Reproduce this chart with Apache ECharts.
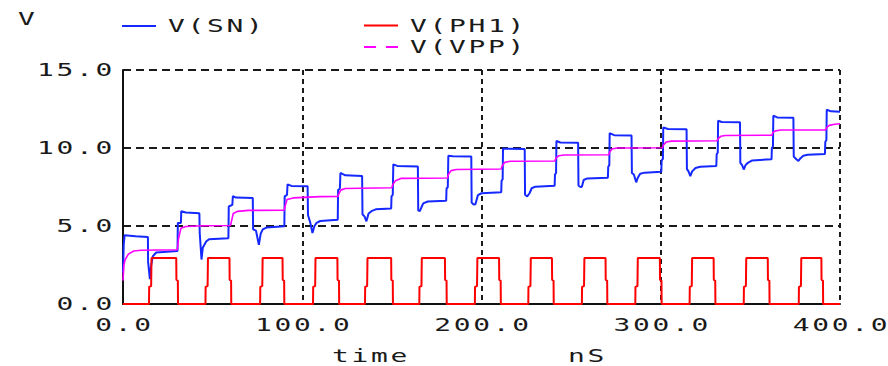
<!DOCTYPE html>
<html><head><meta charset="utf-8">
<script src="https://cdn.jsdelivr.net/npm/echarts@6/dist/echarts.min.js"></script>
<style>
html,body{margin:0;padding:0;background:#fff}
#chart{width:888px;height:366px}
#chart text{letter-spacing:1.75px}
</style></head><body><div id="chart"></div>
<script>
// ---- data (time in nS, voltage in V) ----
const seriesNames = ['V(SN)', 'V(PH1)', 'V(VPP)'];
const xRange = [0, 400];
const yRange = [0, 15];

const snPoints = [
[0,2.0],[0.4,3.8],[0.9,4.4],[7,4.35],[13.9,4.3],
[14.0,2.7],[15.0,1.6],[15.6,2.4],[16.6,3.05],[18.5,3.3],[30.4,3.4],
[30.6,5.2],[32.3,5.2],[32.5,5.95],[35,5.87],[42.6,5.82],
[42.8,4.55],[43.8,2.85],[44.5,3.6],[46.4,4.0],[48,4.15],[58.8,4.22],
[59.0,6.25],[61.0,6.35],[61.3,6.92],[63,6.82],[72.4,6.8],
[72.6,4.78],[74.2,4.7],[75.8,3.8],[76.8,4.5],[78,4.78],[80,4.9],[90.0,4.98],
[90.2,6.9],[91.5,7.0],[91.8,7.67],[94,7.57],[103.0,7.55],
[103.2,5.7],[104.5,5.2],[105.7,4.55],[106.8,5.0],[108,5.2],[110,5.32],[119.8,5.4],
[120.0,7.3],[121.0,7.4],[121.3,8.4],[124,8.25],[133.4,8.2],
[133.6,5.75],[134.8,5.6],[135.8,5.3],[137,5.8],[138.6,5.95],[141,6.07],[149.6,6.12],
[149.8,6.9],[150.5,7.0],[150.8,8.95],[153,8.85],[164.5,8.82],
[164.7,6.0],[165.6,5.95],[166.5,6.2],[167.5,6.45],[170,6.57],[180.3,6.62],
[180.5,7.4],[181.2,7.5],[181.5,9.5],[184,9.47],[194.3,9.45],
[194.5,6.5],[195.6,6.38],[196.6,6.4],[198,6.98],[200,7.1],[211.0,7.16],
[211.2,7.9],[211.8,8.0],[212.0,9.97],[214,9.95],[224.1,9.93],
[224.3,7.0],[225.5,6.9],[226.8,7.1],[228,7.42],[230,7.52],[240.8,7.58],
[241.0,8.3],[241.6,8.4],[241.8,10.45],[244,10.35],[253.9,10.33],
[254.1,7.6],[255.2,7.5],[256,7.52],[257,7.95],[259,8.05],[270.5,8.1],
[270.7,8.8],[271.3,8.9],[271.5,10.95],[274,10.82],[283.7,10.8],
[283.9,8.4],[285,8.3],[286.3,7.8],[287.2,8.1],[288.5,8.35],[291,8.42],[300.3,8.47],
[300.5,9.2],[301.2,9.3],[301.4,11.32],[304,11.22],[314.4,11.2],
[314.6,8.65],[315.5,8.5],[316.5,8.2],[317.5,8.5],[319.4,8.72],[322,8.8],[331.0,8.85],
[331.2,9.6],[331.8,9.7],[332.0,11.75],[334,11.67],[344.2,11.65],
[344.4,9.05],[345.4,8.9],[346.3,8.62],[347.3,8.9],[348.6,9.05],[351,9.2],[361.8,9.28],
[362.0,10.0],[362.6,10.1],[362.8,12.07],[365,11.96],[374.0,11.94],
[374.2,9.45],[375.5,9.3],[376.8,9.17],[378,9.35],[379.5,9.5],[382,9.57],[391.6,9.62],
[391.8,10.4],[392.4,10.5],[392.6,12.45],[395,12.35],[400,12.33]
];

const ph1Points = [
[0,0],
[14.5,0],[14.6,1.1],[15.7,1.15],[15.9,2.95],[29.7,2.95],[29.8,1.55],[30.6,1.5],[30.7,0],
[46.0,0],[46.1,1.1],[47.2,1.15],[47.4,2.95],[59.4,2.95],[59.5,1.55],[60.3,1.5],[60.4,0],
[76.5,0],[76.6,1.1],[77.7,1.15],[77.9,2.95],[89.0,2.95],[89.1,1.55],[89.9,1.5],[90.0,0],
[106.0,0],[106.1,1.1],[107.2,1.15],[107.4,2.95],[119.6,2.95],[119.7,1.55],[120.5,1.5],[120.6,0],
[135.0,0],[135.1,1.1],[136.2,1.15],[136.4,2.95],[149.6,2.95],[149.7,1.55],[150.5,1.5],[150.6,0],
[165.3,0],[165.4,1.1],[166.5,1.15],[166.7,2.95],[179.6,2.95],[179.7,1.55],[180.5,1.5],[180.6,0],
[196.3,0],[196.4,1.1],[197.5,1.15],[197.7,2.95],[209.8,2.95],[209.9,1.55],[210.7,1.5],[210.8,0],
[226.1,0],[226.2,1.1],[227.3,1.15],[227.5,2.95],[239.3,2.95],[239.4,1.55],[240.2,1.5],[240.3,0],
[256.0,0],[256.1,1.1],[257.2,1.15],[257.4,2.95],[269.2,2.95],[269.3,1.55],[270.1,1.5],[270.2,0],
[285.8,0],[285.9,1.1],[287.0,1.15],[287.2,2.95],[299.5,2.95],[299.6,1.55],[300.4,1.5],[300.5,0],
[316.1,0],[316.2,1.1],[317.3,1.15],[317.5,2.95],[329.5,2.95],[329.6,1.55],[330.4,1.5],[330.5,0],
[346.3,0],[346.4,1.1],[347.5,1.15],[347.7,2.95],[359.7,2.95],[359.8,1.55],[360.6,1.5],[360.7,0],
[377.0,0],[377.1,1.1],[378.2,1.15],[378.4,2.95],[389.6,2.95],[389.7,1.55],[390.5,1.5],[390.6,0],
[400,0]
];

const vppPoints = [
[0,1.5],[0.5,2.5],[1.2,2.85],[3,3.2],[6,3.4],[10,3.45],[30.3,3.48],
[31,4.2],[32.3,4.85],[35,4.97],[45,5.02],[60,5.03],
[60.5,5.3],[61.5,5.8],[64,5.94],[70,6.0],[90,6.02],
[90.5,6.3],[91.5,6.7],[95,6.8],[110,6.88],[120,6.9],
[120.5,7.1],[121.5,7.3],[124,7.4],[150,7.45],
[150.5,7.65],[152,7.9],[155,8.05],[181,8.08],
[181.5,8.3],[183,8.55],[186,8.62],[211,8.65],
[211.5,8.85],[213,9.08],[216,9.15],[241,9.17],
[241.5,9.35],[243,9.5],[246,9.55],[271,9.57],
[271.5,9.75],[273,9.95],[276,10.0],[301,10.02],
[301.5,10.2],[303,10.38],[306,10.44],[331.5,10.46],
[332,10.6],[333.5,10.75],[336,10.8],[362,10.82],
[362.5,10.98],[364,11.1],[367,11.15],[392,11.16],
[392.5,11.3],[394,11.45],[397,11.52],[400,11.55]
];

const colors = ['#1428ff', '#ff0000', '#ff00ff'];

// ---- chart ----
const FONT = 'DejaVu Sans Mono';
const txt = {fontFamily: FONT, fontSize: 18, color: '#1a1a1a'};
const chart = echarts.init(document.getElementById('chart'), null, {renderer: 'svg'});

function legendCfg(name, left, top, icon) {
  return {
    data: [{name: name, icon: icon}],
    left: left, top: top, padding: 0,
    itemWidth: 34, itemHeight: 2,
    symbolKeepAspect: false,
    selectedMode: false,
    textStyle: Object.assign({}, txt, {padding: [0, 0, 0, 7]})
  };
}

chart.setOption({
  animation: false,
  backgroundColor: '#fff',
  grid: {left: 123, top: 70, width: 717, height: 234, containLabel: false},
  xAxis: {
    type: 'value', min: xRange[0], max: xRange[1], interval: 100,
    axisLine: {show: true, onZero: false, lineStyle: {color: '#111', width: 2}},
    axisTick: {show: false},
    axisLabel: Object.assign({}, txt, {margin: 12, padding: [0, 0, 0, 3], formatter: v => v.toFixed(1)}),
    splitLine: {show: true, lineStyle: {color: '#1a1a1a', width: 2, type: [5, 4]}}
  },
  yAxis: {
    type: 'value', min: yRange[0], max: yRange[1], interval: 5,
    axisLine: {show: true, onZero: false, lineStyle: {color: '#111', width: 2}},
    axisTick: {show: false},
    axisLabel: Object.assign({}, txt, {margin: 8, formatter: v => v.toFixed(1)}),
    splitLine: {show: true, lineStyle: {color: '#1a1a1a', width: 2, type: [8, 5]}}
  },
  legend: [
    legendCfg(seriesNames[0], 122, 17, 'rect'),
    legendCfg(seriesNames[1], 364, 16.5, 'rect'),
    legendCfg(seriesNames[2], 364, 38, 'path://M0,0H11V2H0Z M20,0H31V2H20Z')
  ],
  graphic: [
    {type: 'text', x: 18, y: 18.5, style: {text: 'V', verticalAlign: 'middle', align: 'left', fontFamily: FONT, fontSize: 18, fill: '#1a1a1a'}},
    {type: 'text', x: 332, y: 355.5, style: {text: 'time', verticalAlign: 'middle', align: 'left', fontFamily: FONT, fontSize: 18, fill: '#1a1a1a'}},
    {type: 'text', x: 568, y: 355.5, style: {text: 'nS', verticalAlign: 'middle', align: 'left', fontFamily: FONT, fontSize: 18, fill: '#1a1a1a'}}
  ],
  series: [
    {name: seriesNames[0], type: 'line', data: snPoints, showSymbol: false, symbol: 'none', color: colors[0], lineStyle: {width: 2, color: colors[0]}},
    {name: seriesNames[1], type: 'line', data: ph1Points, showSymbol: false, symbol: 'none', color: colors[1], lineStyle: {width: 2, color: colors[1]}},
    {name: seriesNames[2], type: 'line', data: vppPoints, showSymbol: false, symbol: 'none', color: colors[2], lineStyle: {width: 1.6, color: colors[2]}}
  ]
});

// widen glyphs horizontally around each text's own anchor (the reference uses a wide terminal font)
const SX = 1.55;
function widen() {
  document.querySelectorAll('#chart svg text').forEach(t => {
    const cur = t.getAttribute('transform') || '';
    if (cur && t.dataset.done === cur) return;
    const x = parseFloat(t.getAttribute('x') || '0') || 0;
    const nt = (cur ? cur + ' ' : '') + 'translate(' + x + ' 0) scale(' + SX + ' 1) translate(' + (-x) + ' 0)';
    t.setAttribute('transform', nt);
    t.dataset.done = nt;
  });
}
widen();
chart.on('finished', widen);
setTimeout(widen, 0);
</script></body></html>
